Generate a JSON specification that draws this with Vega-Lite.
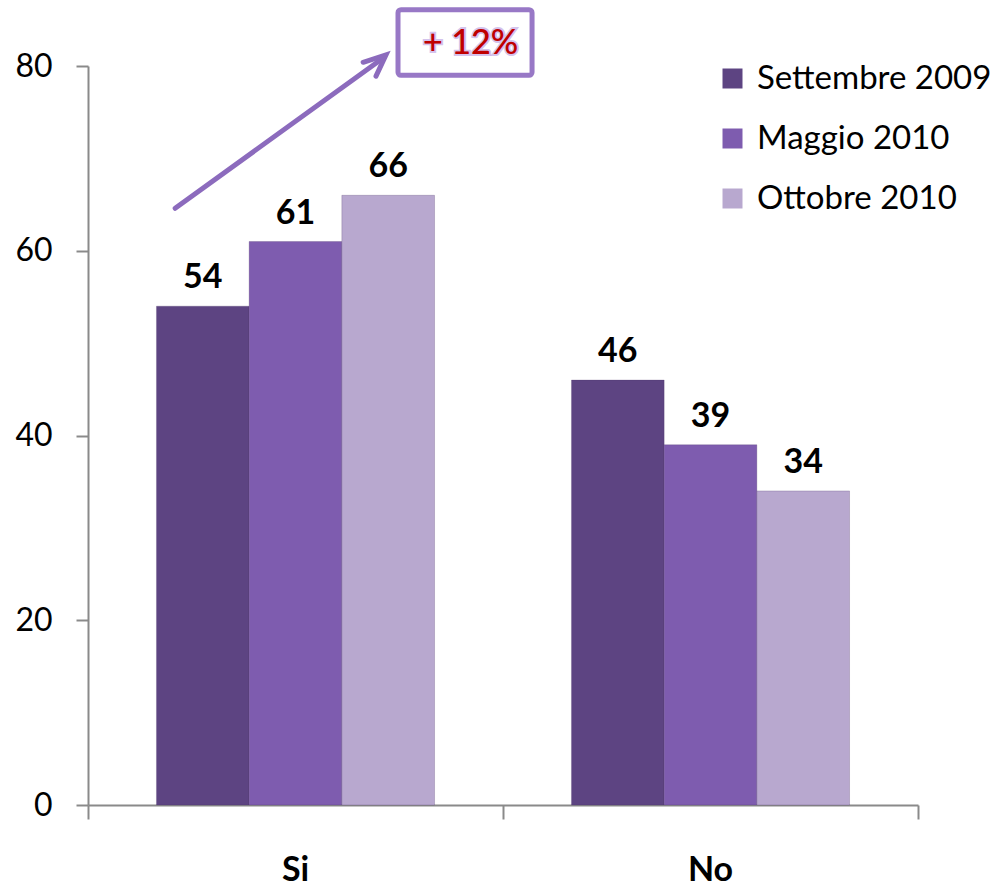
{
  "$schema": "https://vega.github.io/schema/vega-lite/v6.json",
  "width": 830,
  "height": 739,
  "autosize": {"type": "none"},
  "padding": {"left": 88, "top": 66, "right": 80, "bottom": 85},
  "background": "white",
  "config": {"view": {"stroke": null}, "font": "Lato"},
  "datasets": {
    "bars": [
      {"risposta": "Si", "periodo": "Settembre 2009", "valore": 54},
      {"risposta": "Si", "periodo": "Maggio 2010", "valore": 61},
      {"risposta": "Si", "periodo": "Ottobre 2010", "valore": 66},
      {"risposta": "No", "periodo": "Settembre 2009", "valore": 46},
      {"risposta": "No", "periodo": "Maggio 2010", "valore": 39},
      {"risposta": "No", "periodo": "Ottobre 2010", "valore": 34}
    ],
    "arrow": [
      {"seg": "shaft", "o": 1, "ax": 0.21, "ay": 64.6},
      {"seg": "shaft", "o": 2, "ax": 0.712, "ay": 80.9},
      {"seg": "head", "o": 1, "ax": 0.663, "ay": 80.4},
      {"seg": "head", "o": 2, "ax": 0.718, "ay": 81.2},
      {"seg": "head", "o": 3, "ax": 0.694, "ay": 78.9}
    ],
    "box": [
      {"x1": 0.747, "x2": 1.07, "y1": 79.0, "y2": 86.1, "xc": 0.922, "yc": 82.4, "label": "+ 12%"}
    ]
  },
  "layer": [
    {
      "data": {"name": "bars"},
      "encoding": {
        "x": {
          "field": "risposta", "type": "nominal", "sort": ["Si", "No"],
          "scale": {"paddingInner": 0.33, "paddingOuter": 0.165},
          "axis": {"title": null, "domain": false, "ticks": false, "tickSize": 14,
                   "labelAngle": 0, "labelFont": "Lato", "labelFontSize": 34, "labelFontWeight": "bold",
                   "labelColor": "#000000", "labelPadding": 48, "orient": "bottom"}
        },
        "xOffset": {
          "field": "periodo", "type": "nominal",
          "sort": ["Settembre 2009", "Maggio 2010", "Ottobre 2010"],
          "scale": {"paddingInner": 0, "paddingOuter": 0}
        },
        "y": {
          "field": "valore", "type": "quantitative",
          "scale": {"domain": [0, 80], "nice": false, "zero": true},
          "axis": {"title": null, "values": [0, 20, 40, 60, 80], "grid": false,
                   "tickSize": 12, "tickWidth": 2, "tickColor": "#8a8a8a",
                   "domainColor": "#8a8a8a", "domainWidth": 2,
                   "labelFont": "Lato", "labelFontSize": 32, "labelColor": "#000000",
                   "labelPadding": 24}
        }
      },
      "layer": [
        {
          "mark": {"type": "bar", "stroke": "#4a3566", "strokeWidth": 0.5, "strokeOpacity": 0.5},
          "encoding": {
            "color": {
              "field": "periodo", "type": "nominal",
              "sort": ["Settembre 2009", "Maggio 2010", "Ottobre 2010"],
              "scale": {"domain": ["Settembre 2009", "Maggio 2010", "Ottobre 2010"],
                        "range": ["#5d4482", "#7e5caf", "#b8a8cf"]},
              "legend": {
                "title": null, "orient": "none", "legendX": 628, "legendY": -4,
                "symbolType": "square", "symbolSize": 400, "symbolStrokeWidth": 0,
                "labelFont": "Lato", "labelFontSize": 33, "labelColor": "#000000",
                "labelOffset": 8, "rowPadding": 26, "labelLimit": 400
              }
            }
          }
        },
        {
          "mark": {"type": "text", "baseline": "alphabetic", "dy": -18, "fontSize": 34,
                   "fontWeight": "bold", "font": "Lato", "color": "#000000"},
          "encoding": {"text": {"field": "valore", "type": "quantitative"}}
        }
      ]
    },
    {
      "layer": [
        {
          "data": {"name": "arrow"},
          "mark": {"type": "line", "color": "#8c6bbd", "strokeWidth": 5, "strokeCap": "round", "strokeJoin": "miter"},
          "encoding": {
            "x": {"field": "ax", "type": "quantitative", "scale": {"domain": [0, 2], "nice": false, "zero": true},
                  "axis": {"orient": "bottom", "title": null, "values": [0, 1, 2], "labels": false, "grid": false,
                           "domain": true, "domainColor": "#8a8a8a", "domainWidth": 2,
                           "tickSize": 14, "tickWidth": 2, "tickColor": "#8a8a8a"}},
            "y": {"field": "ay", "type": "quantitative"},
            "detail": {"field": "seg", "type": "nominal"},
            "order": {"field": "o", "type": "quantitative"}
          }
        },
        {
          "data": {"name": "box"},
          "mark": {"type": "rect", "fill": "#ffffff", "stroke": "#9878c6", "strokeWidth": 5, "cornerRadius": 3},
          "encoding": {
            "x": {"field": "x1", "type": "quantitative", "scale": {"domain": [0, 2], "nice": false}},
            "x2": {"field": "x2"},
            "y": {"field": "y1", "type": "quantitative"},
            "y2": {"field": "y2"}
          }
        },
        {
          "data": {"name": "box"},
          "mark": {"type": "text", "font": "Lato", "fontSize": 34, "fill": "#c00000", "stroke": "#b89ae0",
                   "strokeWidth": 4, "strokeOpacity": 0.6, "baseline": "middle", "align": "center"},
          "encoding": {
            "x": {"field": "xc", "type": "quantitative", "scale": {"domain": [0, 2], "nice": false}},
            "y": {"field": "yc", "type": "quantitative"},
            "text": {"field": "label"}
          }
        },
        {
          "data": {"name": "box"},
          "mark": {"type": "text", "font": "Lato", "fontSize": 34, "color": "#c00000", "fontWeight": 500,
                   "baseline": "middle", "align": "center"},
          "encoding": {
            "x": {"field": "xc", "type": "quantitative", "scale": {"domain": [0, 2], "nice": false}},
            "y": {"field": "yc", "type": "quantitative"},
            "text": {"field": "label"}
          }
        }
      ]
    }
  ],
  "resolve": {"scale": {"x": "independent"}, "axis": {"x": "independent"}}
}
